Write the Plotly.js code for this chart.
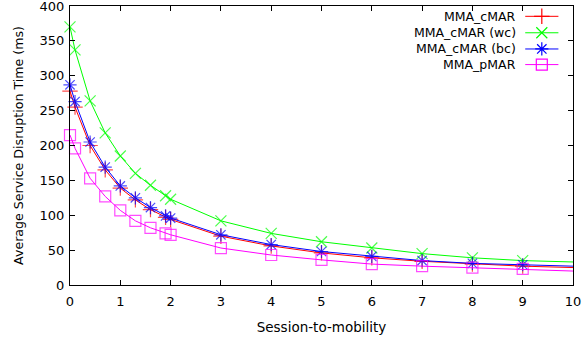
<!DOCTYPE html>
<html>
<head>
<meta charset="utf-8">
<script src="https://cdn.plot.ly/plotly-3.0.1.min.js"></script>
<style>html,body{margin:0;padding:0;background:#fff;}#chart{width:583px;height:339px;}</style>
</head>
<body>
<div id="chart"></div>
<script>
// Data
var sessionToMobility = [0, 0.1, 0.4, 0.7, 1.0, 1.3, 1.6, 1.9, 2, 3, 4, 5, 6, 7, 8, 9, 10];
var mmaCMAR   = [278, 255, 200, 165, 139, 122, 108, 97, 94, 70, 56, 46, 39, 34, 30, 27, 25];
var mmaCMARwc = [370, 337, 264, 218, 185, 160, 143, 128, 123, 92, 74, 62, 53, 45, 39, 35, 33];
var mmaCMARbc = [287, 263, 205, 169, 142, 125, 111, 99, 96, 72, 58, 48, 41, 35, 31, 29, 27];
var mmaPMAR   = [215, 196, 153, 127, 107, 92, 82, 74, 72, 53, 43, 36, 30, 27, 25, 23, 20];
var seriesNames = ["MMA_cMAR", "MMA_cMAR (wc)", "MMA_cMAR (bc)", "MMA_pMAR"];
var xTicks = [0,1,2,3,4,5,6,7,8,9,10];
var yTicks = [0,50,100,150,200,250,300,350,400];

var colors = ["#ff0000", "#00ff00", "#0000ff", "#ff00ff"];
var symbols = ["cross-thin", "x-thin", "asterisk", "square-open"];
var sizes = [11, 11, 11, 11];
var allSeries = [mmaCMAR, mmaCMARwc, mmaCMARbc, mmaPMAR];
var FONT = "DejaVu Sans, Verdana, sans-serif";

var traces = [];
allSeries.forEach(function (ys, i) {
  var n = sessionToMobility.length;
  traces.push({
    x: sessionToMobility, y: ys, type: "scatter", mode: "lines+markers",
    name: seriesNames[i], showlegend: false, cliponaxis: false,
    line: {color: colors[i], width: 1},
    marker: {
      symbol: symbols[i], color: colors[i],
      size: sessionToMobility.map(function (v, k) { return k === n - 1 ? 0 : sizes[i]; }),
      line: {color: colors[i], width: 1.2}
    },
    hoverinfo: "x+y+name"
  });
});

// Custom gnuplot-style legend (text left, sample right) on an overlay axis
var legY = [0.963, 0.904, 0.846, 0.79];
var annotations = [];
seriesNames.forEach(function (nm, i) {
  traces.push({
    x: [0.905, 0.971], y: [legY[i], legY[i]], xaxis: "x2", yaxis: "y2",
    type: "scatter", mode: "lines", showlegend: false, hoverinfo: "skip",
    line: {color: colors[i], width: 1}
  });
  traces.push({
    x: [0.938], y: [legY[i]], xaxis: "x2", yaxis: "y2",
    type: "scatter", mode: "markers", showlegend: false, hoverinfo: "skip",
    marker: {symbol: symbols[i], color: colors[i], size: sizes[i], line: {color: colors[i], width: 1.2}}
  });
  annotations.push({
    xref: "paper", yref: "paper", x: 0.891, y: legY[i], xanchor: "right", yanchor: "middle",
    text: nm, showarrow: false, font: {family: FONT, size: 12.5, color: "#000"}
  });
});

var axisCommon = {
  showline: true, linecolor: "#000", linewidth: 1, mirror: "ticks",
  ticks: "inside", ticklen: 5, tickcolor: "#000", tickwidth: 1,
  showgrid: false, zeroline: false, ticklabeloverflow: "allow",
  tickfont: {family: FONT, size: 13, color: "#000"}
};

var layout = {
  width: 583, height: 339,
  margin: {l: 70, r: 10, t: 6, b: 54},
  paper_bgcolor: "#fff", plot_bgcolor: "#fff",
  showlegend: false,
  xaxis: Object.assign({}, axisCommon, {
    range: [0, 10], tickvals: xTicks, ticktext: xTicks.map(String),
    ticklabelstandoff: 4,
    title: {text: "Session-to-mobility", font: {family: FONT, size: 13.5, color: "#000"}, standoff: 14}
  }),
  yaxis: Object.assign({}, axisCommon, {
    range: [0, 400], tickvals: yTicks, ticktext: yTicks.map(String),
    ticklabelstandoff: 2,
    title: {text: "Average Service Disruption Time (ms)", font: {family: FONT, size: 12.6, color: "#000"}, standoff: 13}
  }),
  xaxis2: {overlaying: "x", range: [0, 1], visible: false, fixedrange: true},
  yaxis2: {overlaying: "y", range: [0, 1], visible: false, fixedrange: true},
  annotations: annotations
};

Plotly.newPlot("chart", traces, layout, {staticPlot: true, displayModeBar: false});
</script>
</body>
</html>
